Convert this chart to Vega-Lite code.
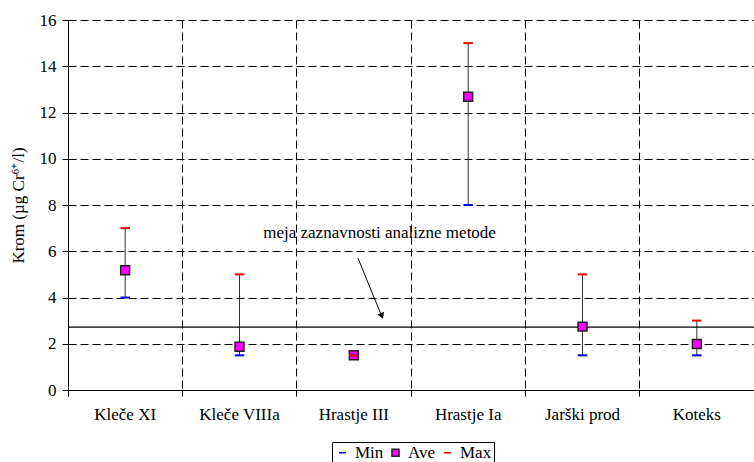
{
  "$schema": "https://vega.github.io/schema/vega-lite/v6.json",
  "width": 686,
  "height": 370,
  "autosize": "none",
  "padding": {"left": 68, "top": 20, "right": 0, "bottom": 72},
  "background": "white",
  "config": {
    "font": "Liberation Serif",
    "view": {"stroke": null},
    "axis": {
      "domainColor": "#000",
      "tickColor": "#000",
      "gridColor": "#000",
      "gridDash": [8, 4],
      "gridOpacity": 1,
      "gridWidth": 1,
      "labelFont": "Liberation Serif",
      "labelFontSize": 17,
      "labelColor": "#000",
      "titleFont": "Liberation Serif",
      "titleFontSize": 17,
      "titleFontWeight": "normal",
      "titleColor": "#000"
    },
    "legend": {
      "orient": "none",
      "legendX": 264,
      "legendY": 422,
      "direction": "horizontal",
      "strokeColor": "#000",
      "fillColor": "white",
      "padding": 2,
      "labelFont": "Liberation Serif",
      "labelFontSize": 17,
      "labelColor": "#000",
      "labelOffset": 4,
      "symbolSize": 50,
      "symbolStrokeWidth": 1.5,
      "columnPadding": 3
    }
  },
  "datasets": {
    "sites": [
      {"site": "Kleče XI", "Min": 4, "Ave": 5.18, "Max": 7},
      {"site": "Kleče VIIIa", "Min": 1.5, "Ave": 1.87, "Max": 5},
      {"site": "Hrastje III", "Min": 1.5, "Ave": 1.5, "Max": 1.5},
      {"site": "Hrastje Ia", "Min": 8, "Ave": 12.68, "Max": 15},
      {"site": "Jarški prod", "Min": 1.5, "Ave": 2.74, "Max": 5},
      {"site": "Koteks", "Min": 1.5, "Ave": 1.99, "Max": 3}
    ],
    "limit": [{"value": 2.72}],
    "note": [{"x": 2.725, "y": 6.56, "text": "meja zaznavnosti analizne metode"}],
    "arrow": [{"x": 2.536, "y": 5.71, "x2": 2.735, "y2": 3.3}],
    "head": [{"x": 2.745, "y": 3.2}]
  },
  "layer": [
    {
      "layer": [
        {
          "data": {"name": "sites"},
          "mark": {"type": "rule", "color": "#333", "strokeWidth": 1},
          "encoding": {
            "x": {
              "field": "site",
              "type": "nominal",
              "sort": null,
              "scale": {
                "domain": ["Kleče XI", "Kleče VIIIa", "Hrastje III", "Hrastje Ia", "Jarški prod", "Koteks"],
                "paddingInner": 0,
                "paddingOuter": 0
              },
              "axis": {
                "title": null,
                "labelAngle": 0,
                "bandPosition": 0,
                "grid": true,
                "tickSize": 6,
                "labelPadding": 10,
                "tickExtra": true
              }
            },
            "y": {
              "field": "Min",
              "type": "quantitative",
              "scale": {"domain": [0, 16], "nice": false},
              "axis": {
                "title": "Krom (µg Cr⁶⁺/l)",
                "values": [0, 2, 4, 6, 8, 10, 12, 14, 16],
                "tickSize": 6,
                "labelPadding": 6,
                "titlePadding": 12
              }
            },
            "y2": {"field": "Max"}
          }
        },
        {
          "data": {"name": "limit"},
          "mark": {"type": "rule", "color": "#000", "strokeWidth": 1.2},
          "encoding": {"y": {"field": "value", "type": "quantitative"}}
        },
        {
          "data": {"name": "sites"},
          "transform": [
            {"fold": ["Ave", "Min", "Max"], "as": ["stat", "value"]},
            {"filter": "datum.stat === 'Ave'"}
          ],
          "mark": {"type": "point", "filled": true, "size": 80, "strokeWidth": 1.5, "opacity": 1},
          "encoding": {
            "x": {"field": "site", "type": "nominal", "sort": null},
            "y": {"field": "value", "type": "quantitative"},
            "shape": {
              "field": "stat",
              "type": "nominal",
              "scale": {"domain": ["Min", "Ave", "Max"], "range": ["stroke", "square", "stroke"]},
              "legend": {"title": null}
            },
            "fill": {
              "field": "stat",
              "type": "nominal",
              "scale": {"domain": ["Min", "Ave", "Max"], "range": ["#0000ff", "#ff00ff", "#ff0000"]},
              "legend": {"title": null}
            },
            "stroke": {
              "field": "stat",
              "type": "nominal",
              "scale": {"domain": ["Min", "Ave", "Max"], "range": ["#0000ff", "#222222", "#ff0000"]},
              "legend": {"title": null}
            }
          }
        },
        {
          "data": {"name": "sites"},
          "transform": [
            {"fold": ["Min", "Max"], "as": ["stat", "value"]}
          ],
          "mark": {"type": "point", "filled": true, "size": 90, "strokeWidth": 2, "opacity": 1},
          "encoding": {
            "x": {"field": "site", "type": "nominal", "sort": null},
            "y": {"field": "value", "type": "quantitative"},
            "shape": {"field": "stat", "type": "nominal", "legend": {"title": null}},
            "fill": {"field": "stat", "type": "nominal", "legend": {"title": null}},
            "stroke": {"field": "stat", "type": "nominal", "legend": {"title": null}}
          }
        }
      ]
    },
    {
      "layer": [
        {
          "data": {"name": "note"},
          "mark": {"type": "text", "align": "center", "baseline": "alphabetic", "fontSize": 17, "font": "Liberation Serif", "color": "#000"},
          "encoding": {
            "x": {"field": "x", "type": "quantitative", "scale": {"domain": [0, 6], "nice": false, "zero": false}, "axis": null},
            "y": {"field": "y", "type": "quantitative"},
            "text": {"field": "text"}
          }
        },
        {
          "data": {"name": "arrow"},
          "mark": {"type": "rule", "color": "#000", "strokeWidth": 1},
          "encoding": {
            "x": {"field": "x", "type": "quantitative", "axis": null},
            "y": {"field": "y", "type": "quantitative"},
            "x2": {"field": "x2"},
            "y2": {"field": "y2"}
          }
        },
        {
          "data": {"name": "head"},
          "mark": {"type": "point", "shape": "triangle-down", "filled": true, "color": "#000", "size": 50, "angle": 338, "opacity": 1},
          "encoding": {
            "x": {"field": "x", "type": "quantitative", "axis": null},
            "y": {"field": "y", "type": "quantitative"}
          }
        }
      ]
    }
  ],
  "resolve": {"scale": {"x": "independent"}}
}
